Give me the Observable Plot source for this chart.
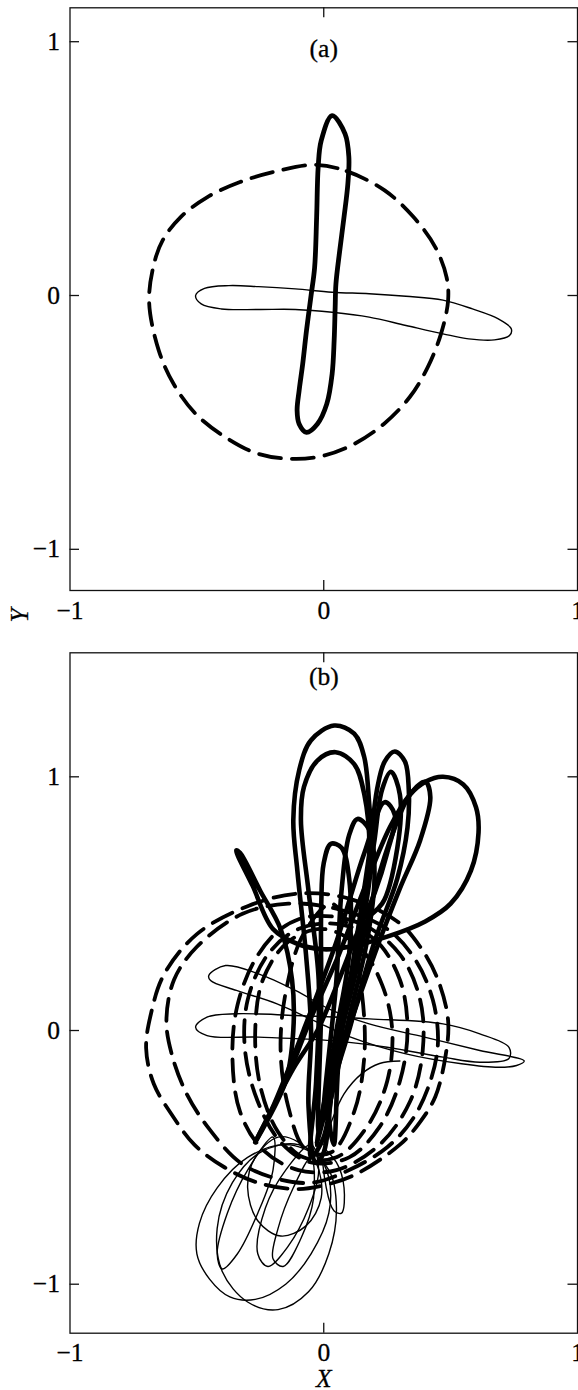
<!DOCTYPE html>
<html>
<head>
<meta charset="utf-8">
<script src="https://cdn.jsdelivr.net/npm/d3@7"></script>
<script src="https://cdn.jsdelivr.net/npm/@observablehq/plot@0.6"></script>
<style>
  html, body { margin: 0; padding: 0; background: #fff; }
  #chart svg { display: block; }
</style>
</head>
<body>
<div id="chart"></div>
<script>
// Axis ticks shared by both panels
const axisTicks = [-1, 0, 1];
const tickLabel = d => (d < 0 ? "\u2212" + Math.abs(d) : String(d));

// ---- Panel (a): one period of each trajectory ----
// dashed orbit
const aDashed = [
  [-0.03, 0.515], [0.09, 0.49], [0.24, 0.414], [0.353, 0.31], [0.44, 0.19], [0.484, 0.072],
  [0.49, -0.02], [0.462, -0.151], [0.41, -0.282], [0.339, -0.40], [0.237, -0.506], [0.12, -0.585],
  [0.004, -0.63], [-0.112, -0.644], [-0.257, -0.624], [-0.388, -0.558], [-0.505, -0.466],
  [-0.592, -0.348], [-0.65, -0.217], [-0.688, -0.03], [-0.672, 0.112], [-0.635, 0.217],
  [-0.563, 0.31], [-0.46, 0.387], [-0.33, 0.447], [-0.185, 0.49]
];
// thick vertical loop
const aThick = [
  [0.033, 0.709], [0.084, 0.637], [0.099, 0.545], [0.095, 0.44], [0.08, 0.31], [0.063, 0.177],
  [0.048, 0.046], [0.045, -0.046], [0.041, -0.177], [0.033, -0.309], [0.012, -0.427],
  [-0.025, -0.506], [-0.068, -0.539], [-0.097, -0.506], [-0.105, -0.453], [-0.097, -0.374],
  [-0.083, -0.27], [-0.068, -0.138], [-0.05, 0.0], [-0.036, 0.11], [-0.028, 0.31],
  [-0.022, 0.505], [-0.01, 0.61]
];
// thin horizontal loop
const aThin = [
  [-0.505, 0.0], [-0.47, 0.028], [-0.374, 0.039], [-0.257, 0.035], [-0.112, 0.026], [0.033, 0.013],
  [0.179, 0.007], [0.324, -0.003], [0.47, -0.018], [0.586, -0.053], [0.688, -0.092], [0.739, -0.131],
  [0.732, -0.158], [0.673, -0.175], [0.571, -0.171], [0.47, -0.151], [0.324, -0.118], [0.179, -0.085],
  [0.033, -0.066], [-0.112, -0.055], [-0.257, -0.055], [-0.403, -0.053], [-0.483, -0.033]
];

// ---- Panel (b): long run of the same three trajectories ----
const bDashed = [
  [[-0.1, 0.54], [0.1, 0.52], [0.29, 0.43], [0.38, 0.33], [0.45, 0.2], [0.49, 0.04], [0.48, -0.1],
   [0.44, -0.26], [0.38, -0.36], [0.3, -0.45], [0.12, -0.57], [0.0, -0.61], [-0.11, -0.625],
   [-0.26, -0.6], [-0.39, -0.54], [-0.51, -0.45], [-0.6, -0.33], [-0.67, -0.21], [-0.7, -0.07],
   [-0.68, 0.07], [-0.63, 0.22], [-0.5, 0.38], [-0.3, 0.49]],
  [[-0.14, 0.5], [0.05, 0.48], [0.25, 0.4], [0.36, 0.28], [0.43, 0.12], [0.45, -0.05], [0.42, -0.2],
   [0.35, -0.35], [0.25, -0.46], [0.1, -0.55], [-0.05, -0.6], [-0.2, -0.58], [-0.33, -0.52],
   [-0.45, -0.39], [-0.54, -0.25], [-0.6, -0.09], [-0.62, 0.04], [-0.59, 0.2], [-0.5, 0.33], [-0.32, 0.46]],
  [[-0.05, 0.45], [0.15, 0.42], [0.3, 0.3], [0.38, 0.12], [0.39, -0.08], [0.34, -0.28], [0.22, -0.45],
   [0.05, -0.55], [-0.1, -0.55], [-0.24, -0.47], [-0.33, -0.32], [-0.36, -0.1], [-0.34, 0.1],
   [-0.27, 0.28], [-0.17, 0.4]],
  [[0.0, 0.4], [0.14, 0.33], [0.23, 0.18], [0.27, 0.0], [0.25, -0.2], [0.17, -0.38], [0.05, -0.5],
   [-0.08, -0.5], [-0.18, -0.4], [-0.25, -0.22], [-0.27, 0.0], [-0.24, 0.2], [-0.14, 0.35]],
  [[0.05, 0.42], [0.2, 0.36], [0.3, 0.2], [0.33, 0.0], [0.3, -0.2], [0.22, -0.38], [0.1, -0.5],
   [-0.05, -0.52], [-0.17, -0.44], [-0.26, -0.28], [-0.31, -0.08], [-0.3, 0.12], [-0.22, 0.3], [-0.1, 0.4]],
  [[0.03, 0.5], [0.1, 0.4], [0.15, 0.15], [0.16, -0.1], [0.12, -0.32], [0.03, -0.48], [-0.07, -0.47],
   [-0.14, -0.3], [-0.17, -0.08], [-0.15, 0.15], [-0.08, 0.38]]
];
const bThick = [
  [[-0.03, -0.52], [-0.06, -0.3], [-0.05, 0.0], [-0.07, 0.3], [-0.104, 0.63], [-0.12, 0.83],
   [-0.097, 1.025], [-0.051, 1.143], [0.041, 1.202], [0.12, 1.17], [0.159, 1.08], [0.179, 0.894],
   [0.19, 0.7], [0.15, 0.4], [0.07, 0.05], [0.03, -0.25], [0.0, -0.48]],
  [[-0.05, -0.5], [-0.03, -0.2], [-0.02, 0.2], [-0.06, 0.55], [-0.09, 0.83], [-0.078, 0.96],
   [-0.025, 1.064], [0.047, 1.097], [0.12, 1.05], [0.16, 0.93], [0.18, 0.7], [0.14, 0.35],
   [0.05, -0.1], [0.0, -0.42]],
  [[0.04, -0.45], [0.06, -0.1], [0.12, 0.3], [0.18, 0.7], [0.21, 0.95], [0.24, 1.06], [0.28, 1.1],
   [0.32, 1.06], [0.335, 0.95], [0.33, 0.8], [0.29, 0.6], [0.2, 0.35], [0.1, 0.0], [0.02, -0.3]],
  [[0.16, 0.45], [0.2, 0.75], [0.23, 0.95], [0.265, 1.02], [0.3, 0.93], [0.29, 0.72], [0.23, 0.5]],
  [[-0.27, -0.44], [-0.15, -0.2], [-0.05, 0.05], [0.06, 0.3], [0.16, 0.56], [0.26, 0.8], [0.34, 0.93],
   [0.4, 0.98], [0.47, 1.0], [0.55, 0.97], [0.6, 0.88], [0.61, 0.78], [0.58, 0.63], [0.5, 0.5], [0.4, 0.43],
   [0.25, 0.37], [0.1, 0.33], [0.0, 0.32], [-0.1, 0.34], [-0.2, 0.4], [-0.28, 0.57], [-0.345, 0.71],
   [-0.33, 0.7], [-0.25, 0.55], [-0.17, 0.4], [-0.125, 0.2], [-0.12, 0.0], [-0.15, -0.2]],
  [[0.12, 0.2], [0.2, 0.55], [0.28, 0.8], [0.34, 0.93], [0.4, 0.98], [0.42, 0.92], [0.38, 0.75],
   [0.3, 0.56], [0.2, 0.3], [0.08, -0.05], [-0.03, -0.45], [0.02, -0.2]],
  [[-0.02, -0.4], [-0.01, 0.1], [-0.01, 0.49], [0.0, 0.66], [0.028, 0.736], [0.07, 0.72], [0.1, 0.6],
   [0.1, 0.3], [0.05, 0.0], [0.0, -0.3]],
  [[0.0, -0.35], [0.05, 0.2], [0.07, 0.55], [0.1, 0.77], [0.133, 0.834], [0.18, 0.79], [0.2, 0.6],
   [0.17, 0.35], [0.1, 0.05], [0.02, -0.3]],
  [[-0.27, -0.44], [-0.12, -0.15], [-0.025, 0.0], [0.06, 0.2], [0.136, 0.394], [0.2, 0.54], [0.25, 0.7],
   [0.28, 0.85], [0.24, 0.9], [0.16, 0.7], [0.05, 0.35], [-0.08, 0.0], [-0.2, -0.3]]
];
const bThin = [
  [[-0.505, 0.013], [-0.46, 0.053], [-0.344, 0.066], [-0.111, 0.059], [0.18, 0.046], [0.47, 0.026],
   [0.615, -0.013], [0.73, -0.066], [0.73, -0.11], [0.615, -0.125], [0.47, -0.105], [0.25, -0.066],
   [0.033, -0.04], [-0.257, -0.026], [-0.46, -0.02]],
  [[-0.453, 0.217], [-0.387, 0.256], [-0.257, 0.223], [-0.112, 0.158], [0.033, 0.079], [0.179, 0.026],
   [0.397, -0.026], [0.615, -0.079], [0.79, -0.12], [0.76, -0.138], [0.688, -0.145], [0.543, -0.131],
   [0.324, -0.092], [0.106, -0.026], [-0.039, 0.039], [-0.184, 0.105], [-0.344, 0.158], [-0.446, 0.197]],
  [[-0.02, -0.5], [-0.15, -0.45], [-0.3, -0.5], [-0.42, -0.62], [-0.49, -0.76], [-0.5, -0.88], [-0.45, -0.98],
   [-0.37, -1.05], [-0.27, -1.06], [-0.15, -1.0], [-0.05, -0.88], [0.02, -0.72], [0.02, -0.58]],
  [[-0.1, -0.45], [-0.25, -0.48], [-0.36, -0.6], [-0.42, -0.78], [-0.4, -0.95], [-0.3, -1.07], [-0.18, -1.1],
   [-0.06, -1.03], [0.02, -0.88], [0.05, -0.7], [0.02, -0.55]],
  [[-0.2, -0.42], [-0.3, -0.55], [-0.38, -0.72], [-0.42, -0.88], [-0.4, -0.94], [-0.34, -0.88],
   [-0.26, -0.72], [-0.2, -0.55]],
  [[-0.05, -0.45], [-0.15, -0.55], [-0.23, -0.7], [-0.26, -0.88], [-0.22, -0.93], [-0.14, -0.85],
   [-0.06, -0.7], [-0.02, -0.55]],
  [[-0.18, -0.42], [-0.27, -0.5], [-0.3, -0.62], [-0.26, -0.75], [-0.17, -0.81], [-0.07, -0.77],
   [-0.01, -0.66], [-0.03, -0.52], [-0.1, -0.44]],
  [[-0.05, -0.5], [-0.12, -0.62], [-0.18, -0.78], [-0.2, -0.9], [-0.16, -0.93], [-0.09, -0.82], [-0.04, -0.66]],
  [[0.0, -0.47], [0.05, -0.52], [0.08, -0.62], [0.07, -0.72], [0.04, -0.71], [0.01, -0.62]]
];
// open thin arc joining the horizontal loops to the lower ellipses
const bThinArc = [[0.0, -0.45], [0.03, -0.36], [0.08, -0.25], [0.15, -0.17], [0.22, -0.13], [0.3, -0.12]];

// flatten a list of loops into rows for Plot.line
const rows = loops => loops.flatMap((pts, id) => pts.map(([x, y]) => ({x, y, id})));

const serif = "'Liberation Serif', 'Times New Roman', serif";
const FS = 25.5;
const W = 578, ML = 69.5, MR = 1;
const frameW = W - ML - MR;
const textStyle = {fontSize: FS, fontFamily: serif, fill: "#000", stroke: "#000", strokeWidth: 0.3};

function panel({height, marginTop, marginBottom, yDomain, tag, tagDy, xLabelDy, thickWidth, dashed, thick, thin, thinOpen, extra}) {
  const frameH = height - marginTop - marginBottom;
  return Plot.plot({
    width: W, height, marginLeft: ML, marginRight: MR, marginTop, marginBottom,
    x: {domain: [-1, 1], axis: null},
    y: {domain: yDomain, axis: null},
    marks: [
      Plot.line(rows(thin), {x: "x", y: "y", z: "id", curve: "catmull-rom-closed", stroke: "#000", strokeWidth: 1.4}),
      thinOpen ? Plot.line(thinOpen.map(([x, y]) => ({x, y})), {x: "x", y: "y", curve: "catmull-rom", stroke: "#000", strokeWidth: 1.4}) : null,
      Plot.line(rows(dashed), {x: "x", y: "y", z: "id", curve: "catmull-rom-closed", stroke: "#000", strokeWidth: 3.8, strokeDasharray: "22,11"}),
      Plot.line(rows(thick), {x: "x", y: "y", z: "id", curve: "catmull-rom-closed", stroke: "#000", strokeWidth: thickWidth}),
      Plot.frame({stroke: "#111", strokeWidth: 1.3}),
      // inward ticks
      Plot.ruleY(axisTicks, {y: d => d, insetRight: frameW - 9.5, stroke: "#111", strokeWidth: 1.3}),
      Plot.ruleY(axisTicks, {y: d => d, insetLeft: frameW - 9.5, stroke: "#111", strokeWidth: 1.3}),
      Plot.ruleX([0], {x: d => d, insetBottom: frameH - 10, stroke: "#111", strokeWidth: 1.3}),
      Plot.ruleX([0], {x: d => d, insetTop: frameH - 10, stroke: "#111", strokeWidth: 1.3}),
      // tick labels
      Plot.text(axisTicks, {y: d => d, text: tickLabel, frameAnchor: "left", textAnchor: "end", lineAnchor: "middle",
        dx: -10, ...textStyle}),
      Plot.text(axisTicks, {x: d => d, text: tickLabel, frameAnchor: "bottom", lineAnchor: "top",
        dy: xLabelDy, ...textStyle}),
      Plot.text([tag], {frameAnchor: "top", lineAnchor: "middle", dy: tagDy, ...textStyle}),
      ...(extra || [])
    ]
  });
}

const chart = document.getElementById("chart");

chart.append(panel({
  height: 640, marginTop: 7.3, marginBottom: 50, yDomain: [-1.1623, 1.1336],
  tag: "(a)", tagDy: 41, xLabelDy: 10.6, thickWidth: 4.8,
  dashed: [aDashed], thick: [aThick], thin: [aThin],
  extra: [
    Plot.text(["Y"], {frameAnchor: "bottom-left", dx: -50.5, dy: 32, rotate: -90, lineAnchor: "middle",
      fontStyle: "italic", ...textStyle})
  ]
}));

chart.append(panel({
  height: 750, marginTop: 12.3, marginBottom: 57.3, yDomain: [-1.1931, 1.4888],
  tag: "(b)", tagDy: 24.3, xLabelDy: 9.6, thickWidth: 4.6,
  dashed: bDashed, thick: bThick, thin: bThin, thinOpen: bThinArc,
  extra: [
    Plot.text(["X"], {frameAnchor: "bottom", dy: 46, lineAnchor: "middle",
      fontStyle: "italic", ...textStyle})
  ]
}));
</script>
</body>
</html>
